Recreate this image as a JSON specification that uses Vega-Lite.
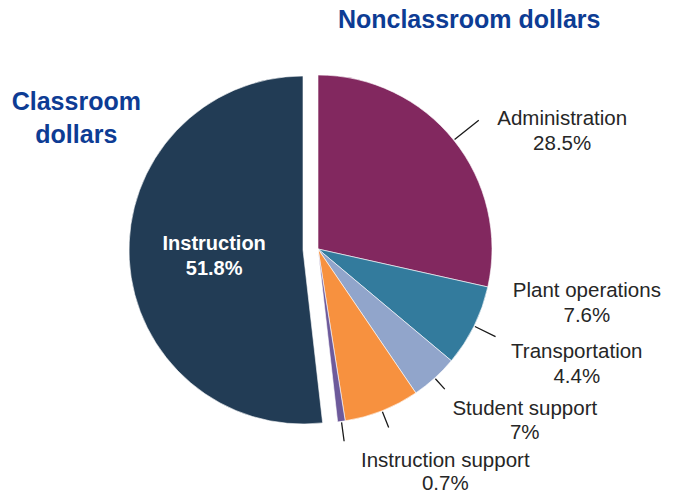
{
  "$schema": "https://vega.github.io/schema/vega-lite/v6.json",
  "width": 636,
  "height": 498,
  "autosize": "none",
  "padding": {"left": 0, "top": 0, "right": 40, "bottom": 0},
  "background": "white",
  "config": {"view": {"stroke": null}},
  "data": {
    "values": [
      {"category": "Administration", "value": 28.5, "pct": "28.5%", "rank": 1, "group": "Nonclassroom dollars"},
      {"category": "Plant operations", "value": 7.6, "pct": "7.6%", "rank": 2, "group": "Nonclassroom dollars"},
      {"category": "Transportation", "value": 4.4, "pct": "4.4%", "rank": 3, "group": "Nonclassroom dollars"},
      {"category": "Student support", "value": 7, "pct": "7%", "rank": 4, "group": "Nonclassroom dollars"},
      {"category": "Instruction support", "value": 0.7, "pct": "0.7%", "rank": 5, "group": "Nonclassroom dollars"},
      {"category": "Instruction", "value": 51.8, "pct": "51.8%", "rank": 6, "group": "Classroom dollars"}
    ]
  },
  "encoding": {
    "theta": {"field": "value", "type": "quantitative", "stack": true},
    "order": {"field": "rank", "type": "quantitative"}
  },
  "layer": [
    {
      "mark": {"type": "arc", "radius": 174, "stroke": "white", "strokeWidth": 0.6},
      "encoding": {
        "color": {"field": "category", "type": "nominal", "legend": null,
          "scale": {"domain": ["Administration", "Plant operations", "Transportation", "Student support", "Instruction support", "Instruction"],
                    "range": ["#82285f", "#337b9d", "#91a5cb", "#f7913f", "#6d5a9b", "#223c55"]}},
        "opacity": {"condition": {"test": "datum.category === 'Instruction'", "value": 0}, "value": 1}
      }
    },
    {
      "mark": {"type": "arc", "radius": 174, "xOffset": -15, "yOffset": 1, "stroke": "white", "strokeWidth": 0.6},
      "encoding": {
        "color": {"field": "category", "type": "nominal", "legend": null},
        "opacity": {"condition": {"test": "datum.category === 'Instruction'", "value": 1}, "value": 0}
      }
    },
    {
      "mark": {"type": "arc", "radius": 206, "radius2": 175, "padAngle": 3.2, "fillOpacity": 0, "stroke": "#1a1a1a", "strokeWidth": 1.3},
      "encoding": {"opacity": {"condition": {"test": "datum.category === 'Administration'", "value": 1}, "value": 0}}
    },
    {
      "mark": {"type": "arc", "radius": 198, "radius2": 175, "padAngle": 3.2, "fillOpacity": 0, "stroke": "#1a1a1a", "strokeWidth": 1.3},
      "encoding": {"opacity": {"condition": {"test": "datum.category === 'Plant operations'", "value": 1}, "value": 0}}
    },
    {
      "mark": {"type": "arc", "radius": 189, "radius2": 175, "padAngle": 3.2, "fillOpacity": 0, "stroke": "#1a1a1a", "strokeWidth": 1.3},
      "encoding": {"opacity": {"condition": {"test": "datum.category === 'Transportation'", "value": 1}, "value": 0}}
    },
    {
      "mark": {"type": "arc", "radius": 192, "radius2": 175, "padAngle": 3.2, "fillOpacity": 0, "stroke": "#1a1a1a", "strokeWidth": 1.3},
      "encoding": {"opacity": {"condition": {"test": "datum.category === 'Student support'", "value": 1}, "value": 0}}
    },
    {
      "mark": {"type": "arc", "radius": 194, "radius2": 175, "padAngle": 3.2, "fillOpacity": 0, "stroke": "#1a1a1a", "strokeWidth": 1.3},
      "encoding": {"opacity": {"condition": {"test": "datum.category === 'Instruction support'", "value": 1}, "value": 0}}
    },
    {
      "mark": {"type": "text", "radius": 195, "dx": 92, "dy": -2, "align": "center", "baseline": "alphabetic", "font": "Liberation Sans", "fontSize": 20.5, "color": "#262626"},
      "encoding": {"text": {"condition": {"test": "datum.category === 'Administration'", "field": "category", "type": "nominal"}, "value": ""}}
    },
    {
      "mark": {"type": "text", "radius": 195, "dx": 92, "dy": 23, "align": "center", "baseline": "alphabetic", "font": "Liberation Sans", "fontSize": 20.5, "color": "#262626"},
      "encoding": {"text": {"condition": {"test": "datum.category === 'Administration'", "field": "pct", "type": "nominal"}, "value": ""}}
    },
    {
      "mark": {"type": "text", "radius": 195, "dx": 94, "dy": -38, "align": "center", "baseline": "alphabetic", "font": "Liberation Sans", "fontSize": 20.5, "color": "#262626"},
      "encoding": {"text": {"condition": {"test": "datum.category === 'Plant operations'", "field": "category", "type": "nominal"}, "value": ""}}
    },
    {
      "mark": {"type": "text", "radius": 195, "dx": 94, "dy": -13, "align": "center", "baseline": "alphabetic", "font": "Liberation Sans", "fontSize": 20.5, "color": "#262626"},
      "encoding": {"text": {"condition": {"test": "datum.category === 'Plant operations'", "field": "pct", "type": "nominal"}, "value": ""}}
    },
    {
      "mark": {"type": "text", "radius": 195, "dx": 128, "dy": -36, "align": "center", "baseline": "alphabetic", "font": "Liberation Sans", "fontSize": 20.5, "color": "#262626"},
      "encoding": {"text": {"condition": {"test": "datum.category === 'Transportation'", "field": "category", "type": "nominal"}, "value": ""}}
    },
    {
      "mark": {"type": "text", "radius": 195, "dx": 128, "dy": -11, "align": "center", "baseline": "alphabetic", "font": "Liberation Sans", "fontSize": 20.5, "color": "#262626"},
      "encoding": {"text": {"condition": {"test": "datum.category === 'Transportation'", "field": "pct", "type": "nominal"}, "value": ""}}
    },
    {
      "mark": {"type": "text", "radius": 195, "dx": 135, "dy": -15, "align": "center", "baseline": "alphabetic", "font": "Liberation Sans", "fontSize": 20.5, "color": "#262626"},
      "encoding": {"text": {"condition": {"test": "datum.category === 'Student support'", "field": "category", "type": "nominal"}, "value": ""}}
    },
    {
      "mark": {"type": "text", "radius": 195, "dx": 135, "dy": 9, "align": "center", "baseline": "alphabetic", "font": "Liberation Sans", "fontSize": 20.5, "color": "#262626"},
      "encoding": {"text": {"condition": {"test": "datum.category === 'Student support'", "field": "pct", "type": "nominal"}, "value": ""}}
    },
    {
      "mark": {"type": "text", "radius": 195, "dx": 101, "dy": 25, "align": "center", "baseline": "alphabetic", "font": "Liberation Sans", "fontSize": 20.5, "color": "#262626"},
      "encoding": {"text": {"condition": {"test": "datum.category === 'Instruction support'", "field": "category", "type": "nominal"}, "value": ""}}
    },
    {
      "mark": {"type": "text", "radius": 195, "dx": 101, "dy": 48, "align": "center", "baseline": "alphabetic", "font": "Liberation Sans", "fontSize": 20.5, "color": "#262626"},
      "encoding": {"text": {"condition": {"test": "datum.category === 'Instruction support'", "field": "pct", "type": "nominal"}, "value": ""}}
    },
    {
      "mark": {"type": "text", "radius": 100, "dx": -4, "dy": -5, "align": "center", "baseline": "alphabetic", "font": "Liberation Sans", "fontWeight": "bold", "fontSize": 20, "color": "white"},
      "encoding": {"text": {"condition": {"test": "datum.category === 'Instruction'", "field": "category", "type": "nominal"}, "value": ""}}
    },
    {
      "mark": {"type": "text", "radius": 100, "dx": -4, "dy": 20, "align": "center", "baseline": "alphabetic", "font": "Liberation Sans", "fontWeight": "bold", "fontSize": 20, "color": "white"},
      "encoding": {"text": {"condition": {"test": "datum.category === 'Instruction'", "field": "pct", "type": "nominal"}, "value": ""}}
    },
    {
      "mark": {"type": "text", "radius": 195, "dx": -47, "dy": -150, "lineBreak": " ", "lineHeight": 33, "align": "center", "baseline": "alphabetic", "font": "Liberation Sans", "fontWeight": "bold", "fontSize": 25, "color": "#0d3c94"},
      "encoding": {"text": {"condition": {"test": "datum.category === 'Instruction'", "field": "group", "type": "nominal"}, "value": ""}}
    },
    {
      "mark": {"type": "text", "radius": 195, "dx": -1, "dy": -99, "align": "center", "baseline": "alphabetic", "font": "Liberation Sans", "fontWeight": "bold", "fontSize": 25, "color": "#0d3c94"},
      "encoding": {"text": {"condition": {"test": "datum.category === 'Administration'", "field": "group", "type": "nominal"}, "value": ""}}
    }
  ]
}
